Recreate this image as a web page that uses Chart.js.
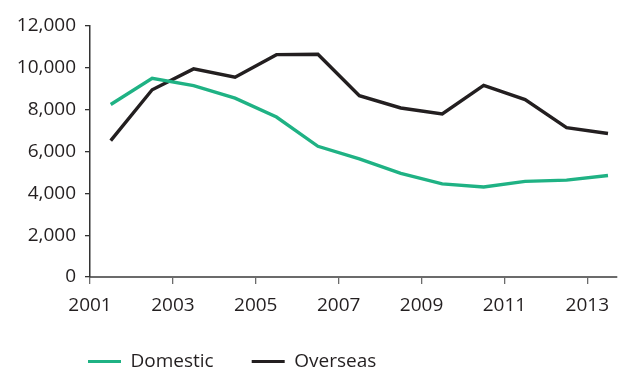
<!DOCTYPE html>
<html>
<head>
<meta charset="utf-8">
<script src="https://cdn.jsdelivr.net/npm/chart.js@4"></script>
<style>
  html, body { margin: 0; padding: 0; background: #fff; overflow: hidden; }
  #wrap { position: relative; width: 619px; height: 381px; }
</style>
</head>
<body>
<div id="wrap"><canvas id="c" width="619" height="381"></canvas></div>
<script>
const years = [2001.5, 2002.5, 2003.5, 2004.5, 2005.5, 2006.5, 2007.5, 2008.5, 2009.5, 2010.5, 2011.5, 2012.5, 2013.5];
const domestic = [8250, 9500, 9150, 8550, 7650, 6250, 5650, 4950, 4450, 4300, 4570, 4630, 4850];
const overseas = [6520, 8950, 9950, 9550, 10630, 10650, 8670, 8080, 7800, 9160, 8480, 7140, 6860];
const xTickYears = [2001, 2003, 2005, 2007, 2009, 2011, 2013];
const yTicks = [0, 2000, 4000, 6000, 8000, 10000, 12000];

const GREEN = '#1fb284';
const BLACK = '#231f20';
const FONT = "'Open Sans', sans-serif";

const legendShift = {
  id: 'legendShift',
  afterLayout(chart) {
    if (chart.legend) { chart.legend.left += 50; chart.legend.right += 50; }
  }
};

new Chart(document.getElementById('c'), {
  type: 'line',
  data: {
    datasets: [
      { label: 'Domestic', data: years.map((x, i) => ({ x, y: domestic[i] })), borderColor: GREEN, backgroundColor: GREEN, borderWidth: 3.4, pointRadius: 0, tension: 0 },
      { label: 'Overseas', data: years.map((x, i) => ({ x, y: overseas[i] })), borderColor: BLACK, backgroundColor: BLACK, borderWidth: 3.4, pointRadius: 0, tension: 0 }
    ]
  },
  plugins: [legendShift],
  options: {
    responsive: false,
    animation: false,
    events: [],
    layout: { padding: { top: 26, right: 0, left: 0, bottom: 0 } },
    plugins: {
      tooltip: { enabled: false },
      legend: {
        position: 'bottom',
        align: 'start',
        labels: {
          color: '#231f20',
          font: { family: FONT, size: 19 },
          boxWidth: 33,
          boxHeight: 3,
          padding: 38,
          generateLabels(chart) {
            return chart.data.datasets.map((ds, i) => ({
              text: ds.label, fillStyle: ds.borderColor, strokeStyle: ds.borderColor,
              lineWidth: 0, hidden: false, datasetIndex: i, fontColor: '#231f20'
            }));
          }
        }
      }
    },
    scales: {
      x: {
        type: 'linear',
        min: 2001,
        max: 2013.7,
        afterBuildTicks(scale) { scale.ticks = xTickYears.map(v => ({ value: v })); },
        afterFit(scale) { scale.height = 37; },
        grid: { drawOnChartArea: false, drawTicks: true, tickLength: 7, color: '#6b6b6b', lineWidth: 1.3 },
        border: { display: true, color: '#6b6b6b', width: 2 },
        ticks: { color: '#231f20', font: { family: FONT, size: 19 }, padding: 10, maxRotation: 0, autoSkip: false, callback: v => String(v) }
      },
      y: {
        min: 0,
        max: 12000,
        afterBuildTicks(scale) { scale.ticks = yTicks.map(v => ({ value: v })); },
        afterFit(scale) { scale.width = 90; },
        grid: { drawOnChartArea: false, drawTicks: true, tickLength: 5, color: '#333333', lineWidth: 1.3 },
        border: { display: true, color: '#333333', width: 1.5 },
        ticks: { color: '#231f20', font: { family: FONT, size: 19 }, padding: 9, callback: v => v.toLocaleString('en-US') }
      }
    }
  }
});
</script>
</body>
</html>
